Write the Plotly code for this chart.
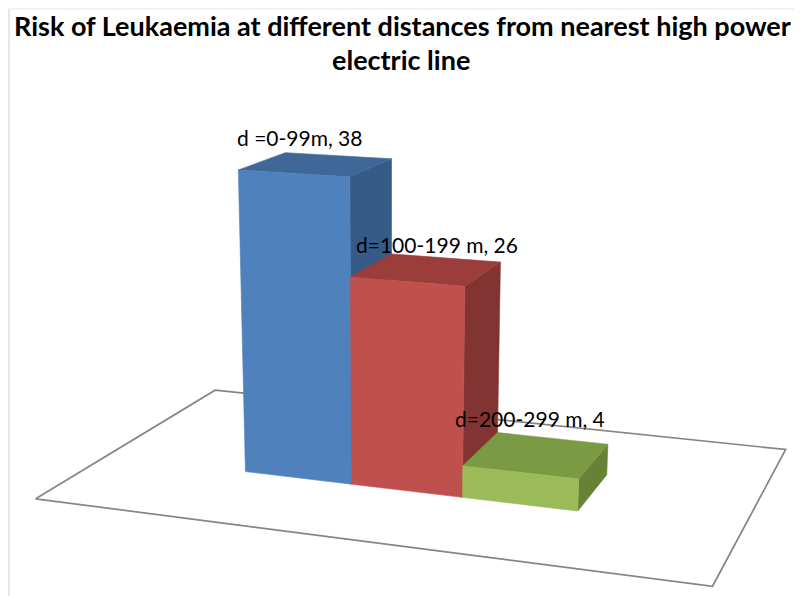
import numpy as np
import plotly.graph_objects as go

# ---- data ----
categories = ["d =0-99m", "d=100-199 m", "d=200-299 m"]
values = [38, 26, 4]
title_lines = ["Risk of Leukaemia at different distances from nearest high power", "electric line"]

# ---- styles ----
front_colors = ["#4F81BD", "#C0504D", "#9BBB59"]
top_colors = ["#3F6898", "#9B3D3B", "#7A9A44"]
side_colors = ["#375B87", "#823432", "#678236"]
label_shift = [(-17, -27), (10, -25), (-7, -36)]

# perspective camera (fitted to the original 3-D view)
P = np.array([[99.3419, 60.4449, -0.4757, 245.413],
              [3.03645, -8.14668, -8.14428, 471.589],
              [-0.0198042, 0.0546451, -0.0012128, 1.0]])
FLOOR_X = (-1.357, 4.357)
FLOOR_Y = (-1.265, 2.265)
BAR_DEPTH = 1.0
PAGE_OFFSET = 8  # default body margin of the html page


def proj(pts):
    xs, ys = [], []
    for X, Y, Z in pts:
        p = P @ np.array([X, Y, Z, 1.0])
        xs.append(p[0] / p[2])
        ys.append(p[1] / p[2])
    xs.append(xs[0])
    ys.append(ys[0])
    return xs, ys


fig = go.Figure()

# floor
fx0, fx1 = FLOOR_X
fy0, fy1 = FLOOR_Y
xs, ys = proj([(fx0, fy0, 0), (fx1, fy0, 0), (fx1, fy1, 0), (fx0, fy1, 0)])
fig.add_trace(go.Scatter(x=xs, y=ys, mode="lines", fill="toself", fillcolor="white",
                         line=dict(color="#858585", width=1.7), hoverinfo="skip"))

# bars
for i, (cat, h) in enumerate(zip(categories, values)):
    d = BAR_DEPTH
    faces = [
        ([(i + 1, 0, 0), (i + 1, d, 0), (i + 1, d, h), (i + 1, 0, h)], side_colors[i]),
        ([(i, 0, h), (i + 1, 0, h), (i + 1, d, h), (i, d, h)], top_colors[i]),
        ([(i, 0, 0), (i + 1, 0, 0), (i + 1, 0, h), (i, 0, h)], front_colors[i]),
    ]
    for pts, col in faces:
        xs, ys = proj(pts)
        fig.add_trace(go.Scatter(x=xs, y=ys, mode="lines", fill="toself", fillcolor=col,
                                 line=dict(color=col, width=0.6), hoverinfo="skip"))
    cx, cy = proj([(i + 0.5, d / 2, h)])
    fig.add_annotation(x=cx[0], y=cy[0], text=f"{cat}, {h}", showarrow=False,
                       xshift=label_shift[i][0], yshift=-label_shift[i][1],
                       font=dict(family="Lato", size=21, color="#000000"))

# title
fig.add_annotation(x=402, y=25, text=f"<b>{title_lines[0]}</b>", showarrow=False,
                   font=dict(family="Lato", size=27, color="#000000"))
fig.add_annotation(x=401, y=59, text=f"<b>{title_lines[1]}</b>", showarrow=False,
                   font=dict(family="Lato", size=27, color="#000000"))

# faint chart-area border
fig.add_shape(type="line", x0=9, x1=9, y0=9, y1=620, line=dict(color="#d6e0ee", width=1.5))
fig.add_shape(type="line", x0=9, x1=820, y0=9, y1=9, line=dict(color="#edf1f7", width=1.5))

o = PAGE_OFFSET
fig.update_layout(width=802, height=596, margin=dict(l=0, r=0, t=0, b=0),
                  paper_bgcolor="white", plot_bgcolor="white", showlegend=False,
                  xaxis=dict(range=[o, 802 + o], visible=False, fixedrange=True),
                  yaxis=dict(range=[596 + o, o], visible=False, fixedrange=True))
fig.write_html("out.html")
